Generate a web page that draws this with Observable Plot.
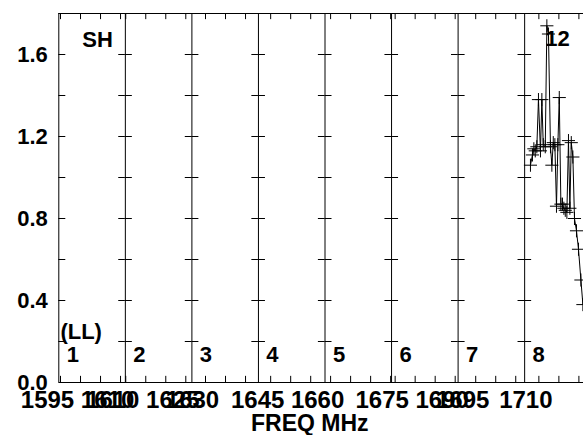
<!DOCTYPE html>
<html><head><meta charset="utf-8">
<script src="https://cdn.jsdelivr.net/npm/d3@7"></script>
<script src="https://cdn.jsdelivr.net/npm/@observablehq/plot@0.6"></script>
<style>body{margin:0;background:#fff}svg{display:block}</style>
</head><body><div id="chart"></div>
<script>
// ---- data ----
const panelNumbers = [1, 2, 3, 4, 5, 6, 7, 8];
const panelStartMHz = [1594.575, 1609.9, 1626.6, 1641.95, 1658.6, 1674.1, 1690.6, 1706.45];
const panelSpanMHz = 16.625;
const minorTickMHz = 5;
const xTickLabelPanel = [1, 1, 2, 2, 3, 4, 5, 6, 6, 7, 8];
const xTickLabelMHz = [1595, 1610, 1610, 1625, 1630, 1645, 1660, 1675, 1690, 1695, 1710];
const yTicks = [0.2, 0.4, 0.6, 0.8, 1.0, 1.2, 1.4, 1.6];
const yLabels = [0.0, 0.4, 0.8, 1.2, 1.6];
const xTitle = "FREQ MHz";
const dataPanel = 8;
const specMHz = [1707.9, 1708.4, 1708.75, 1709.1, 1709.5, 1709.9, 1710.4, 1710.75, 1711.1, 1711.6,
  1712.0, 1712.4, 1712.9, 1713.25, 1713.6, 1714.0, 1714.4, 1714.75, 1715.1, 1715.5,
  1715.9, 1716.25, 1716.6, 1717.0, 1717.4, 1717.75, 1718.1, 1718.5, 1718.9, 1719.4,
  1719.9, 1720.5, 1721.0];
const specFlux = [1.06, 1.11, 1.14, 1.13, 1.15, 1.38, 1.13, 1.38, 1.16, 1.15,
  1.74, 1.70, 1.15, 1.06, 1.17, 1.16, 0.86, 1.16, 1.39, 0.87,
  0.87, 0.85, 0.84, 0.83, 1.18, 0.85, 1.17, 1.10, 0.80, 0.74,
  0.65, 0.50, 0.38];
const topLeftLabel = "SH";
const polLabel = "(LL)";
const topRightLabel = "12";

// ---- helpers ----
const W = panelSpanMHz;
const vx = (p, f) => (p - 1) * W + (f - panelStartMHz[p - 1]);

const boundaries = d3.range(0, panelNumbers.length + 1).map(k => k * W);

const minorTicks = [];
panelNumbers.forEach(p => {
  const f0 = panelStartMHz[p - 1];
  for (let f = Math.ceil(f0 / minorTickMHz) * minorTickMHz; f <= f0 + W + 1e-9; f += minorTickMHz) minorTicks.push(vx(p, f));
});

const yTickSegs = [];
panelNumbers.forEach(p => {
  const left = (p - 1) * W, right = p * W;
  yTicks.forEach(y => {
    yTickSegs.push({x1: left, x2: left + 1.75, y});
    yTickSegs.push({x1: right - 1.65, x2: right, y});
  });
});

const tickLabels = xTickLabelMHz.map((f, i) => ({x: vx(xTickLabelPanel[i], f), label: String(f)}));
const spectrum = specMHz.map((f, i) => ({x: vx(dataPanel, f), y: specFlux[i]}));

const font = {fontSize: 22, fontWeight: "bold", fill: "black"};

const chart = Plot.plot({
  width: 583, height: 435,
  marginLeft: 58.3, marginRight: -7.7, marginTop: 13, marginBottom: 53,
  x: {domain: [0, panelNumbers.length * W], axis: null},
  y: {domain: [0, 1.8], axis: null},
  style: {fontFamily: "'Liberation Sans', Arial, sans-serif", background: "white"},
  marks: [
    Plot.ruleY([0, 1.8], {stroke: "black", strokeWidth: 1}),
    Plot.ruleX(boundaries, {stroke: "black", strokeWidth: 1}),
    Plot.ruleY(yTickSegs, {x1: "x1", x2: "x2", y: "y", stroke: "black"}),
    Plot.ruleX(minorTicks, {y1: 0, y2: 0.03, stroke: "black"}),
    Plot.ruleX(minorTicks, {y1: 1.77, y2: 1.8, stroke: "black"}),
    Plot.line(spectrum, {x: "x", y: "y", stroke: "black", strokeWidth: 1}),
    Plot.dot(spectrum, {x: "x", y: "y", symbol: "plus", r: 4.3, stroke: "black", strokeWidth: 1}),
    Plot.text(tickLabels, {x: "x", y: 0, text: "label", dy: 18, dx: -13, ...font, fontSize: 24}),
    Plot.text(yLabels, {x: 0, y: d => d, text: d => d.toFixed(1), dx: -11, textAnchor: "end", ...font}),
    Plot.text([xTitle], {x: 62.7, y: 0, text: d => d, dy: 41.5, ...font, fontSize: 23}),
    Plot.text(panelNumbers, {x: p => (p - 1) * W + 3.5, y: 0, text: p => String(p), dy: -28, ...font}),
    Plot.text([polLabel], {x: 0.4, y: 0, text: d => d, dy: -51, textAnchor: "start", ...font}),
    Plot.text([topLeftLabel], {x: 9.7, y: 1.8, text: d => d, dy: 26, ...font}),
    Plot.text([topRightLabel], {x: vx(dataPanel, panelStartMHz[dataPanel - 1]) + 8.2, y: 1.8, text: d => d, dy: 25, ...font})
  ]
});
document.getElementById("chart").append(chart);
</script>
</body></html>
